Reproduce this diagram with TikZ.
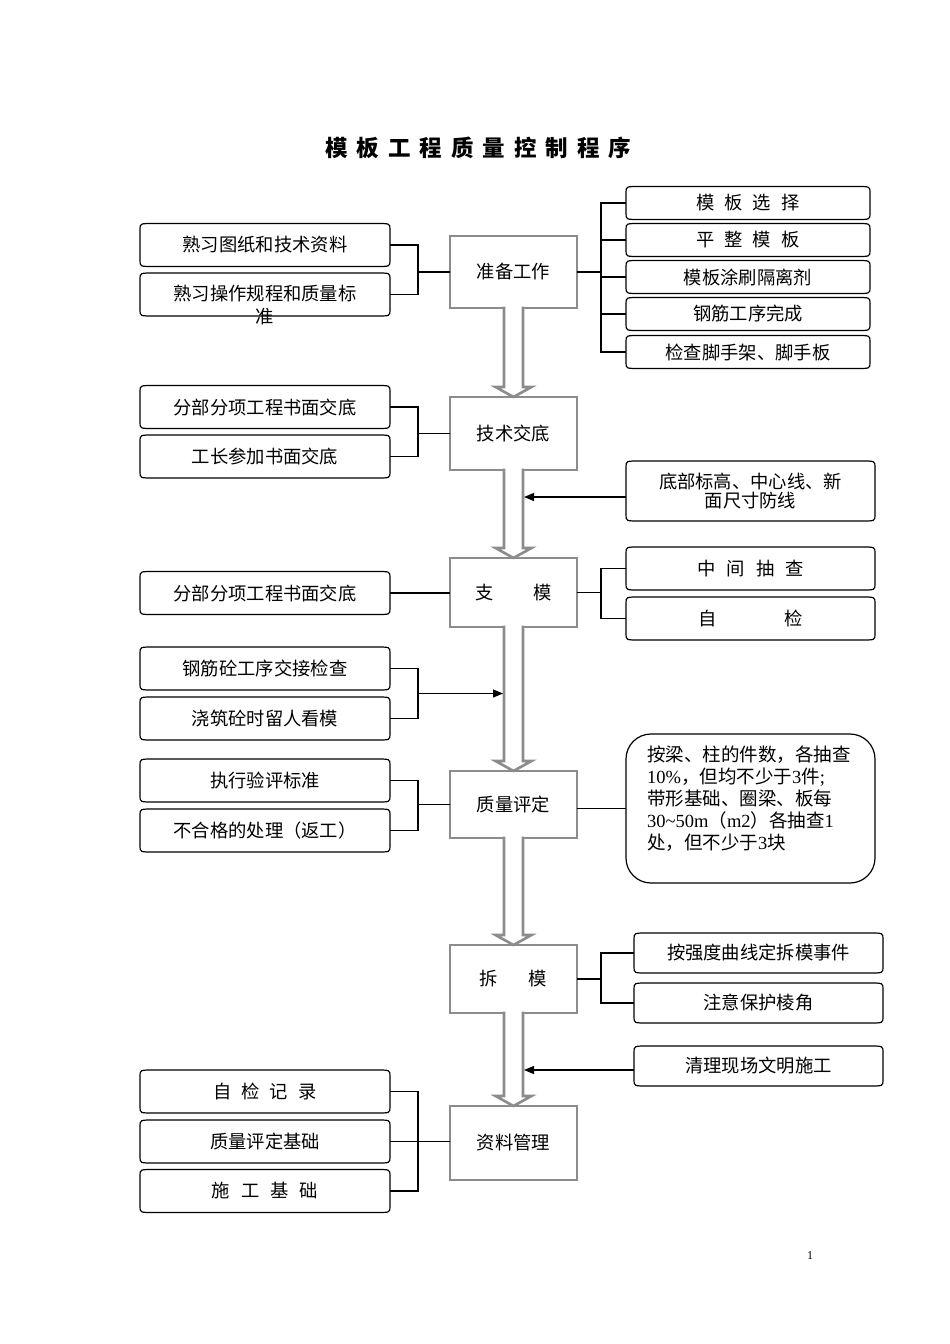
\documentclass[tikz,border=0pt]{standalone}
\usepackage{fontspec}
\setmainfont{Liberation Serif}
\newfontfamily\cjk{Noto Sans CJK SC}
\usetikzlibrary{arrows.meta}
\definecolor{boxgray}{HTML}{8C8C8C}
\tikzset{
  doc/.style={inner sep=0pt, outer sep=0pt, font=\cjk\fontsize{18.3}{22}\selectfont},
  docline/.style={draw=black, line width=1.2pt},
  mainbox/.style={draw=boxgray, line width=2.6pt, fill=white, inner sep=0pt, outer sep=0pt, minimum width=127pt, font=\cjk\fontsize{18.3}{22}\selectfont},
  hollowline/.style={draw=boxgray, line width=2.6pt, line join=miter},
  link/.style={draw=black, line width=1.2pt},
  feed/.style={draw=black, line width=1.2pt, -{Triangle[length=10pt,width=8pt]}},
  lbox/.style={doc, minimum width=250pt, minimum height=43pt},
  rbox/.style={doc, minimum width=244pt, minimum height=33pt},
  rboxb/.style={doc, minimum width=249pt, minimum height=43pt},
  rboxc/.style={doc, minimum width=249pt, minimum height=40pt},
}
\newcommand\chgap[1]{\hspace{#1pt}}
\newcommand\docshape[1]{%
  \draw[docline] ([yshift=-6pt]#1.north west) .. controls (#1.north west) .. ([xshift=14pt]#1.north west)
   -- ([xshift=-14pt]#1.north east) .. controls (#1.north east) .. ([yshift=-6pt]#1.north east)
   -- ([yshift=6pt]#1.south east) .. controls (#1.south east) .. ([xshift=-14pt]#1.south east)
   -- ([xshift=14pt]#1.south west) .. controls (#1.south west) .. ([yshift=6pt]#1.south west) -- cycle;}
\newcommand\hollowarrow[2]{%
  \fill[white] ([xshift=-9.5pt,yshift=1.8pt]#1.south) -- ([xshift=-9.5pt,yshift=10pt]#2.north)
   -- ([xshift=-18pt,yshift=10pt]#2.north) -- (#2.north) -- ([xshift=18pt,yshift=10pt]#2.north)
   -- ([xshift=9.5pt,yshift=10pt]#2.north) -- ([xshift=9.5pt,yshift=1.8pt]#1.south) -- cycle;
  \draw[hollowline] ([xshift=-9.5pt,yshift=1.3pt]#1.south) -- ([xshift=-9.5pt,yshift=10pt]#2.north)
   -- ([xshift=-18pt,yshift=10pt]#2.north) -- (#2.north) -- ([xshift=18pt,yshift=10pt]#2.north)
   -- ([xshift=9.5pt,yshift=10pt]#2.north) -- ([xshift=9.5pt,yshift=1.3pt]#1.south);}
\begin{document}
\begin{tikzpicture}[x=1pt,y=-1pt]
\useasboundingbox[fill=white] (0,0) rectangle (950,1344);

% title
\node[font=\cjk\bfseries\fontsize{22.5}{26}\selectfont] (title) at (478,148)
 {模\chgap{9}板\chgap{9}工\chgap{9}程\chgap{9}质\chgap{9}量\chgap{9}控\chgap{9}制\chgap{9}程\chgap{9}序};

% main boxes
\node[mainbox, minimum height=72pt] (c1) at (513.5,272) {准备工作};
\node[mainbox, minimum height=73pt] (c2) at (513.5,433.5) {技术交底};
\node[mainbox, minimum height=69pt] (c3) at (513.5,592.5) {支\chgap{39}模};
\node[mainbox, minimum height=67pt] (c4) at (513.5,804.5) {质量评定};
\node[mainbox, minimum height=68pt] (c5) at (513.5,979) {拆\chgap{31}模};
\node[mainbox, minimum height=74pt] (c6) at (513.5,1143) {资料管理};

% left boxes
\node[lbox] (l1) at (265,245) {熟习图纸和技术资料};
\node[lbox] (l2) at (265,294.5) {};
\node[doc, align=center, font=\cjk\fontsize{18.3}{23}\selectfont] (l2t) at (265,304.5) {熟习操作规程和质量标\\准};
\node[lbox] (l3) at (265,407) {分部分项工程书面交底};
\node[lbox] (l4) at (265,456.5) {工长参加书面交底};
\node[lbox] (l5) at (265,593) {分部分项工程书面交底};
\node[lbox] (l6) at (265,668.5) {钢筋砼工序交接检查};
\node[lbox] (l7) at (265,718.5) {浇筑砼时留人看模};
\node[lbox] (l8) at (265,780.5) {执行验评标准};
\node[lbox] (l9) at (265,830.5) {不合格的处理（返工）};
\node[lbox] (l10) at (265,1091.5) {自\chgap{10}检\chgap{10}记\chgap{10}录};
\node[lbox] (l11) at (265,1141.5) {质量评定基础};
\node[lbox] (l12) at (265,1191) {施\chgap{11}工\chgap{11}基\chgap{11}础};

% right boxes
\node[rbox] (r1) at (748,203) {模\chgap{10}板\chgap{10}选\chgap{10}择};
\node[rbox] (r2) at (748,240) {平\chgap{10}整\chgap{10}模\chgap{10}板};
\node[rbox] (r3) at (748,277) {模板涂刷隔离剂};
\node[rbox] (r4) at (748,314) {钢筋工序完成};
\node[rbox] (r5) at (748,352) {检查脚手架、脚手板};
\node[doc, minimum width=249pt, minimum height=60pt, align=center, font=\cjk\fontsize{18.3}{19.5}\selectfont] (r6) at (750.5,491) {底部标高、中心线、新\\面尺寸防线};
\node[rboxb] (r7) at (750.5,568.5) {中\chgap{11}间\chgap{11}抽\chgap{11}查};
\node[rboxb] (r8) at (750.5,618.5) {自\chgap{68}检};
\node[draw=black, line width=1.2pt, rounded corners=25pt, inner sep=0pt, outer sep=0pt, minimum width=249pt, minimum height=149pt] (r9) at (750.5,808.5) {};
\node[anchor=north west, align=left, inner sep=0pt, font=\fontsize{18.5}{22}\selectfont] (r9t) at (647,746)
 {{\cjk 按梁、柱的件数，各抽查}\\
  10\%{\cjk ，但均不少于}3{\cjk 件};\\
  {\cjk 带形基础、圈梁、板每}\\
  30\textasciitilde50m{\cjk （}m2{\cjk ）各抽查}1\\
  {\cjk 处，但不少于}3{\cjk 块}};
\node[rboxc] (r10) at (758.5,953) {按强度曲线定拆模事件};
\node[rboxc] (r11) at (758.5,1003) {注意保护棱角};
\node[rboxc] (r12) at (758.5,1066) {清理现场文明施工};

\foreach \n in {l1,l2,l3,l4,l5,l6,l7,l8,l9,l10,l11,l12,r1,r2,r3,r4,r5,r6,r7,r8,r10,r11,r12} {\docshape{\n}}

% hollow arrows
\hollowarrow{c1}{c2}
\hollowarrow{c2}{c3}
\hollowarrow{c3}{c4}
\hollowarrow{c4}{c5}
\hollowarrow{c5}{c6}

% left brackets
\draw[link] (l1.east) -- ++(28,0) |- (l2.east);
\draw[link] (c1.west) -- ++(-32,0);
\draw[link] (l3.east) -- ++(28,0) |- (l4.east);
\draw[link] (c2.west) -- ++(-32,0);
\draw[link] (l5.east) -- (l5.east -| c3.west);
\draw[link] (l6.east) -- ++(28,0) |- (l7.east);
\coordinate (m67) at (418,693.5);
\coordinate (s67) at (503,693.5);
\draw[feed] (m67) -- (s67);
\draw[link] (l8.east) -- ++(28,0) |- (l9.east);
\draw[link] (c4.west) -- ++(-32,0);
\draw[link] (l10.east) -- ++(28,0) |- (l12.east);
\draw[link] (l11.east) -- (l11.east -| c6.west);

% right brackets
\draw[link] (r1.west) -- ++(-25,0) |- (r5.west);
\draw[link] (r2.west) -- ++(-25,0);
\draw[link] (r3.west) -- ++(-25,0);
\draw[link] (r4.west) -- ++(-25,0);
\draw[link] (c1.east) -- ++(24,0);
\coordinate (s2) at (524,497);
\draw[feed] ([yshift=-6pt]r6.west) -- (s2);
\draw[link] (r7.west) -- ++(-25,0) |- (r8.west);
\draw[link] (c3.east) -- ++(24,0);
\draw[link] (r9.west -| c4.east) -- (r9.west);
\draw[link] (r10.west) -- ++(-33,0) |- (r11.west);
\draw[link] (c5.east) -- ++(24,0);
\coordinate (s3) at (524,1070);
\draw[feed] ([yshift=-4pt]r12.west) -- (s3);

% page number
\node[font=\fontsize{12}{14}\selectfont] (pg) at (810,1256) {1};
\end{tikzpicture}
\end{document}
